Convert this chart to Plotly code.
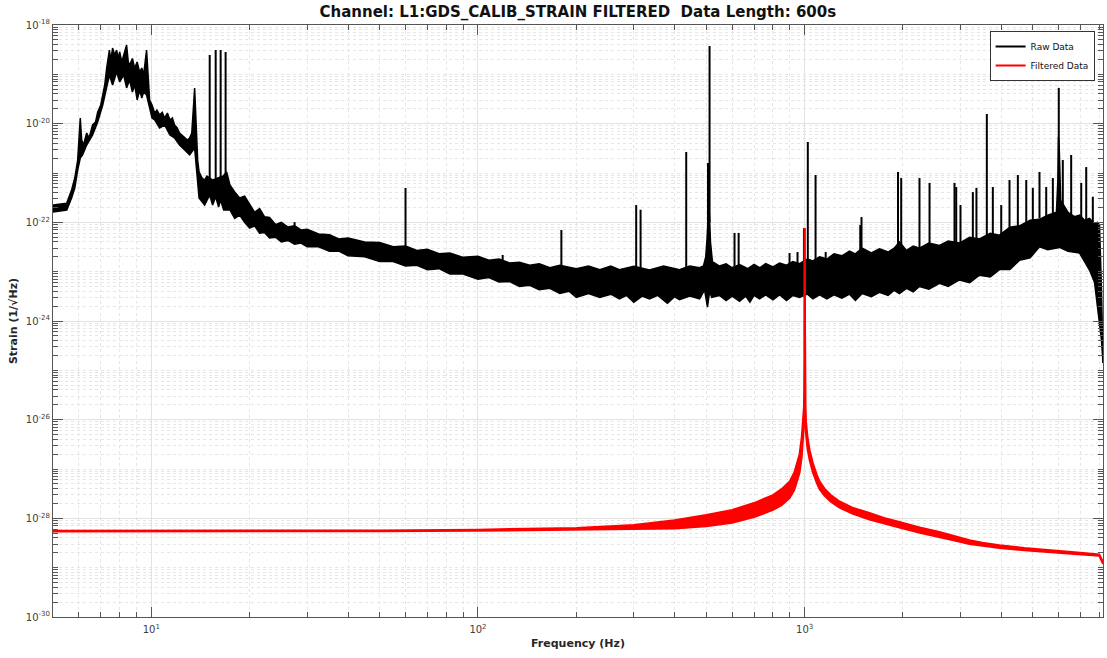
import math
import plotly.graph_objects as go

# ---------------- data ----------------
# Raw data: upper edge of the noisy black band (Hz, strain 1/sqrt(Hz))
raw_upper_freq = [5.0, 5.3, 5.51, 5.7, 5.83, 5.95, 6.06, 6.12, 6.2, 6.34, 6.45, 6.61, 6.75, 6.85,
                  7.0, 7.1, 7.2, 7.3, 7.44, 7.52, 7.61, 7.72, 7.83, 7.92, 8.0, 8.12, 8.23, 8.4,
                  8.5, 8.58, 8.75, 8.89, 9.05, 9.21, 9.35, 9.47, 9.67, 9.8, 9.88, 10.05, 10.24,
                  10.4, 10.6, 10.8, 10.98, 11.2, 11.4, 11.6, 11.78, 12.0, 12.2, 12.4, 12.65, 12.9,
                  13.1, 13.3, 13.57, 13.75, 13.86, 14.0, 14.3, 14.56, 14.8, 15.4, 16.0, 16.6, 17.0,
                  17.4, 18.0, 18.64, 19.3,
                  20.0, 20.7, 21.45, 22.2, 23.0, 24.0, 25.0, 26.2, 27.45, 28.7, 30.0, 32.5, 35.1,
                  37.5, 40.0, 45.0, 50.0, 55.0, 60.0, 65.0, 70.0, 76.0, 82.0, 90.0, 100, 108, 116,
                  125, 134, 144, 154, 166, 178, 200, 218, 236, 255, 271, 300, 335, 370, 414, 445,
                  477, 490, 498, 503, 507, 511, 515, 522, 549, 575, 600, 632, 670, 700, 728, 760,
                  800, 838, 880,
                  920, 965, 1020, 1060, 1111, 1170, 1230, 1300, 1372, 1430, 1500, 1600, 1695, 1800,
                  1880, 1951, 2050, 2150, 2247, 2400, 2587, 2750, 2979, 3200, 3430, 3700, 3949,
                  4250, 4548, 4900, 5236, 5550, 5900, 5960, 5985, 6020, 6080, 6400, 6700, 6941,
                  7200, 7448, 7700, 7881, 7992, 8106, 8192]
raw_upper_asd = [2.24e-22, 2.35e-22, 2.45e-22, 4.52e-22, 7.9e-22, 1.83e-21, 1.3e-20, 4.67e-21,
                 3.69e-21, 6.47e-21, 5.13e-21, 9.4e-21, 1.08e-20, 1.7e-20, 2.39e-20, 3.81e-20,
                 6.08e-20, 1.34e-19, 3.11e-19, 1.95e-19, 3.42e-19, 2.47e-19, 3.11e-19, 2.1e-19,
                 2.84e-19, 1.78e-19, 2.47e-19, 3.93e-19, 1.78e-19, 1.55e-19, 2.1e-19, 1.34e-19,
                 1.78e-19, 1.11e-19, 1.34e-19, 9.7e-20, 3.11e-19, 6.08e-20, 3.02e-20, 2.39e-20,
                 1.64e-20, 1.89e-20, 1.5e-20, 1.7e-20, 1.3e-20, 1.64e-20, 1.19e-20, 1.3e-20,
                 9.4e-21, 8.17e-21, 6.47e-21, 5.89e-21, 5.13e-21, 4.67e-21, 5.13e-21, 6.47e-21,
                 5.3e-20, 7.44e-21, 1.83e-21, 1.05e-21, 7.93e-22, 7.21e-22, 8.69e-22, 7.21e-22,
                 7.93e-22, 8.69e-22, 1.05e-21, 5.71e-22, 4.12e-22, 3.11e-22, 3.4e-22,
                 2.24e-22, 1.6e-22, 1.9e-22, 1.3e-22, 1.25e-22, 9.0e-23, 1.0e-22, 8.0e-23, 8.5e-23,
                 7.0e-23, 7.2e-23, 5.8e-23, 5.6e-23, 4.6e-23, 4.8e-23, 4.0e-23, 3.9e-23, 3.2e-23,
                 3.3e-23, 2.7e-23, 2.85e-23, 2.3e-23, 2.4e-23, 1.95e-23, 2.05e-23, 1.7e-23, 1.8e-23,
                 1.5e-23, 1.55e-23, 1.35e-23, 1.45e-23, 1.2e-23, 1.35e-23, 1.15e-23, 1.3e-23,
                 1.1e-23, 1.3e-23, 1.1e-23, 1.28e-23, 1.08e-23, 1.3e-23, 1.1e-23, 1.3e-23, 1.2e-23,
                 1.3e-23, 2.0e-23, 5.0e-23, 1.5e-22, 1.5e-22, 4.0e-23, 1.6e-23, 1.3e-23, 1.45e-23,
                 1.2e-23, 1.4e-23, 1.15e-23, 1.4e-23, 1.2e-23, 1.45e-23, 1.25e-23, 1.5e-23,
                 1.35e-23, 1.6e-23,
                 1.45e-23, 1.8e-23, 1.65e-23, 2.0e-23, 1.8e-23, 2.3e-23, 2.1e-23, 2.6e-23, 2.3e-23,
                 3.0e-23, 2.4e-23, 2.9e-23, 2.5e-23, 3.0e-23, 4.0e-23, 2.7e-23, 3.3e-23, 3.0e-23,
                 3.8e-23, 3.4e-23, 4.2e-23, 3.8e-23, 5.0e-23, 4.6e-23, 6.0e-23, 5.5e-23, 8.0e-23,
                 8.5e-23, 1.1e-22, 1.15e-22, 1.4e-22, 1.6e-22, 7.2e-22, 5.4e-21, 2.9e-21, 2.8e-22,
                 1.6e-22, 1.3e-22, 1.4e-22, 1.1e-22, 1.2e-22, 9.5e-23, 1.0e-22, 8.8e-23, 4.25e-24,
                 1.41e-25]

# Raw data: lower edge of the noisy black band
raw_lower_freq = [5.0, 5.51, 5.7, 5.83, 5.95, 6.06, 6.16, 6.34, 6.61, 6.85, 7.1, 7.3, 7.44, 7.61,
                  7.83, 8.0, 8.23, 8.4, 8.58, 8.75, 8.89, 9.05, 9.21, 9.35, 9.47, 9.67, 9.88,
                  10.05, 10.24, 10.6, 10.98, 11.4, 11.78, 12.2, 12.65, 13.1, 13.57, 13.86, 14.0,
                  14.56, 15.09, 15.4, 15.74, 16.07, 16.3, 16.65, 17.4, 18.0, 18.64, 19.3,
                  20.0, 20.7, 21.45, 22.2, 23.0, 24.0, 25.0, 26.2, 27.45, 28.7, 30.0, 32.5, 35.1,
                  37.5, 40.0, 45.0, 50.0, 55.0, 60.0, 65.0, 70.0, 76.0, 82.0, 90.0, 100, 108, 116,
                  125, 134, 144, 154, 166, 178, 190, 200, 218, 236, 255, 271, 285, 300, 318, 335,
                  355, 380, 400, 414, 445, 477, 494, 504, 512, 519, 549, 575, 600, 632, 660, 680,
                  700, 728, 760, 800, 838, 880, 920, 965, 1020, 1060, 1111, 1170, 1230, 1300, 1372,
                  1430, 1500, 1600, 1695, 1800, 1880, 1951, 2050, 2150, 2247, 2400, 2587, 2750,
                  2979, 3200, 3430, 3700, 3949, 4250, 4548, 4900, 5236, 5550, 6029, 6400, 6941,
                  7200, 7448, 7716, 7881, 7992, 8106, 8192]
raw_lower_asd = [1.62e-22, 1.78e-22, 3.11e-22, 4.97e-22, 1.15e-21, 2.01e-21, 2.32e-21, 3.69e-21,
                 5.89e-21, 1.08e-20, 2.39e-20, 6.08e-20, 9.7e-20, 6.08e-20, 1.11e-19, 7.0e-20,
                 9.7e-20, 5.3e-20, 7.67e-20, 4.39e-20, 6.08e-20, 3.02e-20, 4.81e-20, 3.31e-20,
                 4.39e-20, 3.81e-20, 2.07e-20, 1.3e-20, 1.19e-20, 8.17e-21, 9.4e-21, 5.89e-21,
                 5.13e-21, 3.69e-21, 2.92e-21, 2.32e-21, 3.21e-21, 5.71e-22, 3.11e-22, 2.24e-22,
                 3.58e-22, 2.24e-22, 3.3e-22, 2.04e-22, 2.83e-22, 1.78e-22, 1.78e-22, 1.2e-22,
                 1.41e-22, 1.0e-22,
                 7.67e-23, 8.5e-23, 6.0e-23, 6.2e-23, 4.8e-23, 5.0e-23, 4.0e-23, 4.3e-23, 3.6e-23,
                 3.8e-23, 3.2e-23, 3.2e-23, 2.6e-23, 2.6e-23, 2.1e-23, 2.0e-23, 1.6e-23, 1.6e-23,
                 1.3e-23, 1.35e-23, 1.1e-23, 1.15e-23, 9.0e-24, 9.0e-24, 7.0e-24, 7.6e-24, 6.2e-24,
                 6.3e-24, 5.0e-24, 5.3e-24, 4.3e-24, 4.6e-24, 3.6e-24, 4.0e-24, 3.0e-24, 3.6e-24,
                 3.0e-24, 3.5e-24, 2.8e-24, 3.3e-24, 2.4e-24, 3.2e-24, 2.8e-24, 3.3e-24, 2.3e-24,
                 3.1e-24, 2.7e-24, 3.2e-24, 2.8e-24, 4.25e-24, 1.92e-24, 4.0e-24, 3.0e-24, 3.3e-24,
                 2.6e-24, 3.2e-24, 2.5e-24, 3.2e-24, 2.4e-24, 3.3e-24, 2.8e-24, 3.4e-24, 2.7e-24,
                 3.4e-24, 2.6e-24, 3.3e-24, 3.0e-24, 3.5e-24, 2.8e-24, 3.4e-24, 2.8e-24, 3.4e-24,
                 2.9e-24, 3.5e-24, 2.6e-24, 3.6e-24, 3.1e-24, 3.8e-24, 3.3e-24, 4.2e-24, 3.6e-24,
                 4.6e-24, 3.9e-24, 5.0e-24, 4.4e-24, 5.8e-24, 5.0e-24, 6.8e-24, 6.0e-24, 8.5e-24,
                 7.8e-24, 1.1e-23, 1.1e-23, 1.7e-23, 1.9e-23, 3.2e-23, 2.8e-23, 3.1e-23, 2.6e-23,
                 2.4e-23, 1.6e-23, 1.08e-23, 6.1e-24, 2.11e-24, 1.05e-24, 4.1e-25, 1.41e-25]

# Raw data: narrow spectral lines (frequency, local floor, peak)
spike_freq = [15.09, 15.74, 16.3, 16.88, 27.45, 40.0, 60.0, 119.0, 180.0, 305.0, 314.6, 434.0,
              506.0, 511.6, 610.0, 628.0, 899.0, 951.0, 995.0, 1022.6, 1080.0, 1160.0, 1480.0,
              1493.0, 1931.0, 1975.0, 2247.0, 2412.0, 2876.0, 2911.0, 3000.0, 3273.0, 3357.0,
              3612.0, 3768.0, 3998.0, 4238.0, 4495.0, 4769.0, 4995.0, 5236.0, 5490.0, 5753.0,
              5998.0, 6171.0, 6546.0, 7026.0, 7278.0, 7625.0]
spike_base = [7.2e-22, 7.9e-22, 8.0e-22, 9.0e-22, 7.5e-23, 4.4e-23, 3.0e-23, 1.6e-23, 1.25e-23,
              1.15e-23, 1.15e-23, 1.2e-23, 2.0e-23, 1.0e-22, 1.25e-23, 1.25e-23, 1.4e-23, 1.5e-23,
              1.5e-23, 1.6e-23, 1.8e-23, 1.9e-23, 2.4e-23, 2.4e-23, 2.75e-23, 2.75e-23, 3.0e-23,
              3.2e-23, 3.7e-23, 3.7e-23, 3.8e-23, 4.4e-23, 4.5e-23, 5.0e-23, 5.2e-23, 5.6e-23,
              7.0e-23, 8.5e-23, 1.0e-22, 1.1e-22, 1.2e-22, 1.3e-22, 1.5e-22, 1.6e-22, 1.6e-22,
              1.4e-22, 1.2e-22, 1.1e-22, 1.0e-22]
spike_peak = [2.47e-19, 3.11e-19, 3.11e-19, 2.84e-19, 1.01e-22, 4.8e-23, 4.97e-22, 2.18e-23,
              7.0e-23, 2.24e-22, 1.8e-22, 2.67e-21, 1.6e-21, 3.75e-19, 6.1e-23, 6.1e-23, 2.39e-23,
              2.5e-23, 7.6e-23, 4.25e-21, 9.1e-22, 2.5e-23, 8.8e-23, 1.28e-22, 1.05e-21, 7.9e-22,
              7.9e-22, 6.3e-22, 6.3e-22, 5.2e-22, 2.24e-22, 4.1e-22, 5.0e-22, 1.57e-20, 5.2e-22,
              2.24e-22, 7.2e-22, 9.1e-22, 7.2e-22, 5.0e-22, 1.05e-21, 5.2e-22, 7.9e-22, 5.3e-20,
              1.83e-21, 2.32e-21, 6.3e-22, 1.32e-21, 3.3e-22]

# Filtered data: upper and lower edges of the red trace
filt_freq = [5.0, 20.0, 50.0, 100, 200, 300, 400, 500, 600, 700, 800, 850, 900, 930, 950, 965,
             980, 990, 995, 998, 999.5, 1000, 1000.5, 1002, 1005, 1010, 1020, 1036, 1060, 1090,
             1111, 1150, 1200, 1279, 1400, 1579, 1750, 1951, 2250, 2587, 2900, 3196, 3500, 3949,
             4700, 5613, 6700, 7980, 8192]
filt_upper_asd = [5.6e-29, 5.6e-29, 5.7e-29, 5.9e-29, 6.4e-29, 7.3e-29, 9.2e-29, 1.17e-28,
                  1.48e-28, 2.04e-28, 2.96e-28, 3.9e-28, 5.6e-28, 8.5e-28, 1.4e-27, 2.0e-27,
                  4.5e-27, 9e-27, 1.8e-26, 4.5e-26, 1.8e-25, 7.7e-23, 1.8e-25, 4.5e-26, 1.8e-26,
                  9e-27, 4.5e-27, 2.4e-27, 1.3e-27, 7.5e-28, 5.6e-28, 4.0e-28, 3.0e-28, 2.2e-28,
                  1.65e-28, 1.28e-28, 1.02e-28, 8.4e-29, 6.5e-29, 5.3e-29, 4.3e-29, 3.6e-29,
                  3.2e-29, 2.85e-29, 2.5e-29, 2.3e-29, 2.05e-29, 1.85e-29, 1.3e-29]
filt_lower_asd = [5.4e-29, 5.4e-29, 5.5e-29, 5.6e-29, 5.8e-29, 5.9e-29, 6.2e-29, 6.9e-29,
                  8.1e-29, 1.06e-28, 1.48e-28, 1.85e-28, 2.6e-28, 3.8e-28, 5.9e-28, 8.5e-28,
                  1.8e-27, 4e-27, 8e-27, 2e-26, 8e-26, 7.7e-23, 8e-26, 2.5e-26, 1.0e-26, 5.0e-27,
                  2.6e-27, 1.5e-27, 8.5e-28, 5.2e-28, 3.9e-28, 2.9e-28, 2.2e-28, 1.65e-28,
                  1.25e-28, 9.5e-29, 7.8e-29, 6.5e-29, 5.1e-29, 4.2e-29, 3.5e-29, 3.0e-29,
                  2.75e-29, 2.5e-29, 2.25e-29, 2.1e-29, 1.9e-29, 1.75e-29, 1.2e-29]

# Tick labels
x_tick_vals = [10, 100, 1000]
x_tick_text = ["10<sup>1</sup>", "10<sup>2</sup>", "10<sup>3</sup>"]
y_tick_vals = [1e-30, 1e-28, 1e-26, 1e-24, 1e-22, 1e-20, 1e-18]
y_tick_text = ["10<sup>-30</sup>", "10<sup>-28</sup>", "10<sup>-26</sup>", "10<sup>-24</sup>",
               "10<sup>-22</sup>", "10<sup>-20</sup>", "10<sup>-18</sup>"]

# ---------------- figure ----------------
x_minor = [k * 10.0 ** n for n in range(0, 4) for k in range(2, 10) if 5 <= k * 10.0 ** n <= 8192]
y_minor = [k * 10.0 ** n for n in range(-30, -18) for k in range(1, 10) if not (k == 1 and n % 2 == 0)]

spike_x, spike_y = [], []
for f, b, p in zip(spike_freq, spike_base, spike_peak):
    spike_x += [f, f, None]
    spike_y += [b, p, None]

fig = go.Figure()
fig.add_trace(go.Scatter(x=raw_upper_freq, y=raw_upper_asd, mode="lines",
                         line=dict(color="black", width=1.5), legendgroup="raw",
                         showlegend=False, hoverinfo="skip"))
fig.add_trace(go.Scatter(x=raw_lower_freq, y=raw_lower_asd, mode="lines",
                         line=dict(color="black", width=1.5), fill="tonexty", fillcolor="black",
                         legendgroup="raw", showlegend=False, hoverinfo="skip"))
fig.add_trace(go.Scatter(x=spike_x, y=spike_y, mode="lines", name="Raw Data",
                         line=dict(color="black", width=2), legendgroup="raw"))
fig.add_trace(go.Scatter(x=filt_freq, y=filt_upper_asd, mode="lines", name="Filtered Data",
                         line=dict(color="#ff0000", width=2), legendgroup="filt"))
fig.add_trace(go.Scatter(x=filt_freq, y=filt_lower_asd, mode="lines",
                         line=dict(color="#ff0000", width=2), fill="tonexty", fillcolor="#ff0000",
                         legendgroup="filt", showlegend=False, hoverinfo="skip"))

axis_common = dict(type="log", ticks="inside", ticklen=10, tickwidth=1, tickcolor="#555",
                   showline=True, linecolor="#555", linewidth=1, mirror="ticks",
                   showgrid=True, gridcolor="#e2e2e2", gridwidth=1, zeroline=False,
                   tickfont=dict(family="DejaVu Sans", size=10, color="#404040"))
minor_common = dict(tickmode="array", ticks="inside", ticklen=5, tickcolor="#555",
                    showgrid=True, gridcolor="#e6e6e6", griddash="dot")

fig.update_xaxes(**axis_common, range=[math.log10(5), math.log10(8192)],
                 tickmode="array", tickvals=x_tick_vals, ticktext=x_tick_text,
                 ticklabelstandoff=3,
                 minor=dict(**minor_common, tickvals=x_minor),
                 title=dict(text="Frequency (Hz)", standoff=5,
                            font=dict(family="DejaVu Sans", size=11, color="#262626", weight="bold")))
fig.update_yaxes(**axis_common, range=[-30, -18],
                 tickmode="array", tickvals=y_tick_vals, ticktext=y_tick_text,
                 minor=dict(**minor_common, tickvals=y_minor),
                 title=dict(text="Strain (1/\u221aHz)", standoff=5,
                            font=dict(family="DejaVu Sans", size=11, color="#262626", weight="bold")))

fig.update_layout(
    width=1107, height=658, autosize=False,
    margin=dict(l=53, r=4, t=25, b=41),
    paper_bgcolor="white", plot_bgcolor="white",
    font=dict(family="DejaVu Sans", size=9, color="#262626"),
    title=dict(text="Channel: L1:GDS_CALIB_STRAIN FILTERED\u00a0 Data Length: 600s",
               x=0.522, xanchor="center", y=0.982, yanchor="middle",
               font=dict(family="DejaVu Sans", size=15, color="#111", weight="bold")),
    legend=dict(x=0.992, y=0.99, xanchor="right", yanchor="top", bgcolor="white",
                bordercolor="#333", borderwidth=1, font=dict(family="DejaVu Sans", size=9, color="#111"),
                tracegroupgap=0),
    showlegend=True,
)

fig.write_html("out.html")
